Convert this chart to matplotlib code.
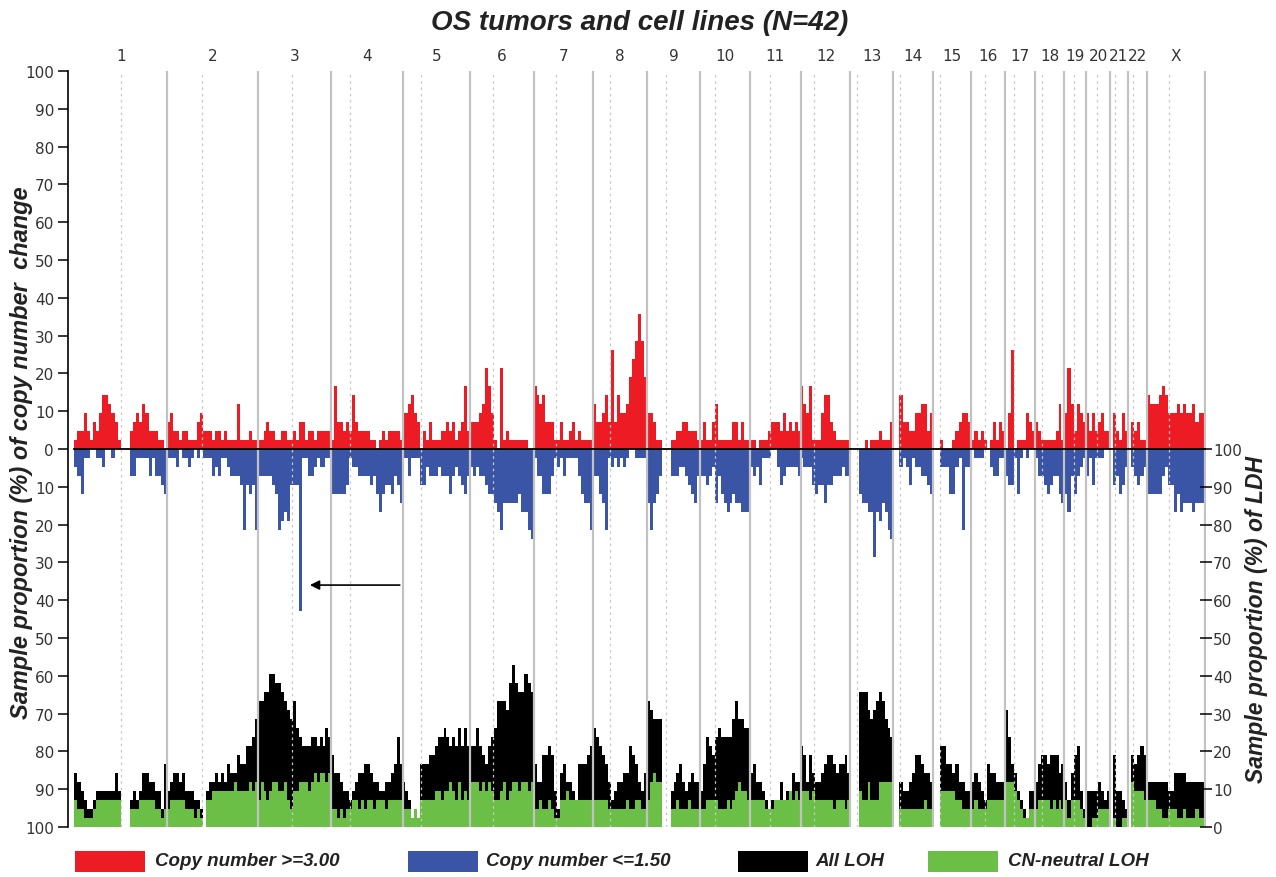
import numpy as np
import matplotlib
matplotlib.use("Agg")
import matplotlib.pyplot as plt
from matplotlib.patches import Rectangle
from matplotlib.transforms import blended_transform_factory

# ---- data: sample counts (out of N=42) per genomic bin, read per chromosome ----
N_SAMPLES = 42
CHROMS = [str(i) for i in range(1, 23)] + ["X"]
CHROM_LEN = [249.25, 243.2, 198.0, 191.2, 180.9, 171.1, 159.1, 146.4, 141.2, 135.5, 135.0, 133.9,
             115.2, 107.3, 102.5, 90.4, 81.2, 78.1, 59.1, 63.0, 48.1, 51.3, 155.3]  # Mb
CENTROMERE = [125.0, 93.3, 91.0, 50.4, 48.4, 61.0, 59.9, 45.6, 49.0, 40.2, 53.7, 35.8,
              17.9, 17.6, 19.0, 36.6, 24.0, 17.2, 26.5, 27.5, 13.2, 14.7, 60.6]  # Mb

GAIN = [
    [1, 2, 2, 4, 2, 1, 3, 2, 4, 6, 6, 5, 4, 3, 1, 0, 0, 0, 2, 3, 4, 3, 5, 4, 2, 2, 2, 1, 1, 0],
    [3, 4, 2, 2, 1, 2, 2, 1, 1, 1, 3, 4, 2, 2, 2, 1, 2, 2, 1, 2, 1, 1, 1, 5, 1, 1, 1, 2, 1, 1],
    [1, 1, 2, 3, 2, 2, 1, 1, 2, 2, 1, 1, 2, 1, 3, 3, 1, 2, 2, 1, 2, 2, 2, 2, 2],
    [1, 7, 3, 3, 2, 3, 2, 6, 3, 2, 2, 2, 2, 1, 1, 0, 1, 2, 1, 2, 2, 2, 2, 1],
    [4, 4, 5, 6, 4, 3, 0, 2, 1, 3, 1, 1, 1, 2, 2, 3, 2, 3, 1, 2, 3, 7, 2],
    [3, 3, 3, 4, 5, 9, 7, 4, 1, 0, 9, 1, 2, 1, 1, 1, 1, 1, 1, 0, 0],
    [7, 6, 5, 6, 3, 3, 3, 1, 1, 3, 1, 1, 2, 3, 1, 2, 1, 1, 1, 1],
    [5, 3, 3, 4, 6, 3, 11, 3, 6, 4, 4, 5, 8, 10, 12, 15, 12, 8],
    [4, 4, 3, 1, 1, 0, 0, 0, 1, 1, 2, 2, 3, 3, 2, 2, 2, 1],
    [1, 3, 1, 1, 3, 5, 1, 1, 1, 1, 1, 3, 3, 1, 3, 1, 1],
    [1, 1, 0, 1, 1, 1, 2, 3, 3, 3, 2, 4, 2, 3, 2, 3, 2],
    [7, 5, 4, 7, 1, 1, 1, 4, 6, 6, 3, 2, 1, 1, 1, 1, 1],
    [0, 0, 0, 0, 0, 1, 0, 1, 1, 1, 2, 1, 1, 1, 3],
    [0, 0, 6, 3, 3, 2, 2, 4, 4, 5, 5, 2, 4],
    [0, 0, 1, 0, 0, 0, 1, 2, 3, 4, 4, 3],
    [1, 2, 1, 2, 1, 0, 1, 3, 1, 3, 2],
    [0, 4, 11, 0, 1, 1, 1, 4, 3, 2],
    [3, 2, 1, 1, 1, 1, 1, 2, 5, 1],
    [4, 9, 5, 2, 5, 4, 3],
    [4, 2, 4, 2, 3, 4, 2, 2],
    [0, 4, 2, 1, 4, 2],
    [0, 3, 2, 3, 1, 1],
    [6, 5, 5, 5, 6, 7, 6, 4, 4, 4, 5, 4, 5, 4, 4, 5, 3, 4, 4],
]

LOSS = [
    [2, 3, 5, 1, 1, 0, 0, 1, 1, 2, 0, 0, 1, 0, 0, 0, 0, 0, 3, 3, 1, 1, 1, 1, 3, 1, 3, 3, 4, 5],
    [1, 1, 1, 2, 0, 1, 1, 2, 1, 0, 1, 0, 1, 1, 1, 3, 2, 3, 1, 1, 2, 3, 3, 3, 4, 9, 4, 5, 4, 9],
    [3, 3, 3, 3, 3, 4, 5, 9, 8, 7, 8, 4, 4, 4, 18, 1, 1, 3, 3, 2, 1, 2, 2, 1, 1],
    [5, 5, 5, 5, 5, 4, 1, 2, 2, 3, 3, 3, 3, 4, 3, 5, 7, 5, 4, 4, 5, 3, 4, 6],
    [1, 1, 3, 1, 1, 1, 4, 4, 2, 3, 3, 3, 2, 3, 3, 3, 5, 3, 2, 3, 4, 5, 3],
    [2, 3, 2, 3, 3, 4, 5, 5, 6, 7, 9, 6, 6, 6, 6, 6, 5, 7, 7, 9, 10],
    [1, 3, 3, 5, 5, 5, 3, 1, 2, 1, 3, 1, 1, 1, 1, 3, 5, 6, 6, 9],
    [3, 3, 5, 6, 9, 1, 2, 1, 2, 1, 2, 1, 0, 0, 1, 1, 1, 1],
    [6, 9, 6, 5, 3, 0, 0, 0, 3, 3, 3, 2, 2, 3, 4, 5, 6, 3],
    [3, 3, 4, 3, 2, 6, 3, 5, 6, 7, 6, 5, 6, 6, 7, 7, 7],
    [2, 3, 2, 4, 1, 1, 1, 0, 0, 2, 4, 3, 2, 2, 2, 2, 3],
    [1, 2, 2, 2, 4, 5, 4, 4, 6, 4, 4, 3, 3, 3, 2, 3, 3],
    [0, 0, 0, 5, 6, 6, 7, 7, 12, 7, 8, 6, 7, 9, 10],
    [0, 0, 2, 1, 2, 4, 1, 2, 2, 3, 3, 4, 5],
    [0, 0, 2, 2, 2, 5, 5, 2, 1, 9, 2, 2],
    [0, 1, 1, 1, 0, 0, 2, 3, 3, 1, 1],
    [3, 4, 4, 1, 5, 1, 0, 1, 0, 0],
    [1, 3, 3, 4, 5, 4, 3, 3, 5, 6],
    [5, 7, 3, 5, 3, 2, 1],
    [3, 1, 4, 1, 1, 1, 0, 0],
    [0, 4, 3, 5, 4, 2],
    [0, 2, 3, 4, 3, 2],
    [5, 5, 5, 5, 5, 3, 2, 4, 4, 7, 5, 7, 6, 6, 6, 7, 6, 6, 6],
]

ALL_LOH = [
    [6, 5, 4, 3, 2, 2, 3, 4, 4, 4, 4, 4, 4, 6, 4, 0, 0, 0, 3, 4, 3, 4, 6, 6, 5, 5, 4, 4, 2, 7],
    [4, 5, 6, 6, 5, 6, 4, 4, 4, 3, 3, 2, 0, 4, 5, 5, 6, 5, 6, 5, 7, 6, 6, 8, 7, 7, 9, 9, 10, 12],
    [14, 14, 15, 15, 17, 17, 16, 16, 15, 14, 13, 12, 14, 11, 10, 9, 9, 9, 10, 10, 9, 10, 9, 11, 10],
    [8, 6, 6, 5, 4, 4, 3, 4, 5, 6, 6, 7, 7, 6, 5, 5, 4, 4, 5, 5, 6, 7, 10, 7],
    [5, 4, 3, 1, 2, 1, 7, 7, 7, 8, 8, 9, 10, 10, 11, 10, 9, 10, 9, 11, 9, 11, 9],
    [9, 9, 11, 9, 8, 7, 9, 10, 11, 14, 14, 14, 13, 16, 18, 16, 15, 15, 17, 16, 15],
    [7, 5, 5, 8, 8, 9, 8, 4, 2, 6, 7, 5, 5, 4, 3, 7, 7, 7, 8, 9],
    [11, 10, 9, 8, 7, 5, 3, 4, 5, 5, 6, 6, 9, 8, 7, 5, 4, 6],
    [14, 13, 12, 12, 12, 0, 0, 0, 4, 5, 6, 7, 5, 4, 5, 6, 5, 5],
    [4, 7, 10, 9, 8, 10, 11, 10, 10, 10, 10, 12, 14, 12, 12, 11, 11],
    [6, 7, 5, 5, 4, 3, 2, 3, 3, 3, 5, 3, 4, 4, 6, 5, 5],
    [9, 8, 5, 8, 6, 5, 5, 6, 7, 8, 8, 7, 6, 7, 7, 8, 6],
    [0, 0, 0, 15, 15, 15, 13, 12, 13, 14, 15, 14, 12, 11, 10],
    [0, 0, 5, 4, 4, 5, 6, 8, 8, 7, 6, 6, 5],
    [0, 0, 9, 9, 7, 7, 6, 7, 5, 5, 4, 4],
    [5, 6, 5, 4, 3, 7, 6, 6, 5, 5, 5],
    [13, 10, 7, 6, 4, 3, 2, 1, 4, 4],
    [5, 7, 8, 8, 7, 8, 8, 8, 6, 7],
    [5, 3, 6, 8, 9, 4, 2],
    [4, 4, 4, 4, 5, 4, 3, 4],
    [0, 8, 4, 4, 3, 2],
    [0, 8, 7, 8, 9, 8],
    [5, 5, 5, 5, 5, 5, 5, 4, 4, 6, 6, 6, 6, 5, 5, 5, 5, 5, 5],
]

CNN_LOH = [
    [3, 2, 2, 1, 1, 1, 2, 3, 3, 3, 3, 3, 3, 3, 3, 0, 0, 0, 2, 2, 2, 3, 3, 3, 3, 3, 2, 2, 1, 2],
    [2, 3, 3, 3, 3, 3, 2, 2, 2, 1, 2, 1, 0, 3, 3, 4, 4, 4, 4, 4, 4, 4, 5, 4, 4, 4, 4, 5, 4, 5],
    [3, 5, 4, 3, 4, 5, 5, 4, 4, 5, 3, 2, 4, 4, 5, 5, 5, 4, 5, 6, 5, 6, 6, 5, 6],
    [2, 2, 1, 2, 1, 2, 2, 3, 3, 2, 3, 2, 3, 3, 2, 3, 3, 3, 2, 3, 3, 3, 3, 3],
    [2, 2, 2, 1, 2, 1, 3, 3, 3, 3, 3, 4, 4, 3, 4, 4, 5, 4, 3, 5, 3, 4, 3],
    [5, 5, 5, 4, 5, 4, 5, 4, 3, 3, 4, 5, 3, 4, 5, 5, 4, 5, 5, 4, 5],
    [2, 2, 3, 2, 2, 3, 2, 1, 1, 3, 3, 4, 3, 3, 3, 3, 3, 3, 3, 3],
    [3, 3, 3, 3, 3, 2, 2, 2, 2, 2, 2, 3, 2, 2, 3, 3, 2, 2],
    [3, 5, 6, 5, 5, 0, 0, 0, 2, 2, 3, 2, 2, 2, 3, 2, 2, 2],
    [2, 2, 3, 3, 3, 3, 2, 2, 2, 3, 2, 3, 4, 5, 4, 4, 3],
    [3, 3, 3, 3, 3, 2, 2, 2, 3, 3, 3, 3, 3, 4, 3, 4, 3],
    [4, 4, 4, 3, 4, 3, 3, 3, 3, 3, 3, 2, 3, 3, 3, 2, 3],
    [0, 0, 0, 4, 3, 3, 5, 3, 3, 3, 5, 5, 5, 5, 5],
    [0, 0, 2, 2, 2, 2, 2, 2, 2, 2, 3, 2, 2],
    [0, 0, 4, 4, 4, 4, 4, 3, 3, 2, 2, 2],
    [2, 3, 2, 2, 2, 3, 3, 3, 3, 3, 3],
    [5, 5, 5, 4, 3, 2, 1, 1, 2, 2],
    [2, 3, 3, 3, 3, 2, 3, 2, 3, 2],
    [3, 1, 3, 3, 3, 2, 1],
    [0, 0, 1, 1, 2, 2, 2, 2],
    [0, 1, 0, 0, 1, 1],
    [0, 5, 4, 4, 4, 3],
    [3, 3, 3, 2, 2, 1, 1, 2, 2, 2, 1, 1, 2, 1, 1, 1, 2, 1, 1],
]

RED = "#ed1c24"
BLUE = "#3a55a5"
GREEN = "#6cbf46"
TXT = "#222222"
NARROW = ["Liberation Sans Narrow", "DejaVu Sans Condensed", "DejaVu Sans"]
SANS = ["Liberation Sans", "DejaVu Sans"]


def pct(counts):
    return np.asarray(counts, dtype=float) / N_SAMPLES * 100.0


def bin_edges(i, counts):
    w = CHROM_LEN[i] / len(counts)
    return offsets[i] + np.arange(len(counts)) * w, w


offsets = np.concatenate([[0.0], np.cumsum(CHROM_LEN)[:-1]])
ends = np.cumsum(CHROM_LEN)
total = ends[-1]

W, H = 1276, 878
fig = plt.figure(figsize=(W / 100, H / 100), dpi=100)
ax = fig.add_axes([68 / W, 50 / H, 1138 / W, 756 / H])

for i in range(len(CHROMS)):
    x, w = bin_edges(i, GAIN[i])
    ax.bar(x, pct(GAIN[i]), width=w, align="edge", color=RED, lw=0, zorder=2)
    x, w = bin_edges(i, LOSS[i])
    ax.bar(x, -pct(LOSS[i]), width=w, align="edge", color=BLUE, lw=0, zorder=2)
    x, w = bin_edges(i, ALL_LOH[i])
    ax.bar(x, pct(ALL_LOH[i]), bottom=-100, width=w, align="edge", color="black", lw=0, zorder=2)
    x, w = bin_edges(i, CNN_LOH[i])
    ax.bar(x, pct(CNN_LOH[i]), bottom=-100, width=w, align="edge", color=GREEN, lw=0, zorder=2.5)

# chromosome boundaries (solid) and centromeres (dotted)
for e in ends:
    ax.axvline(e, color="#c2c2c2", lw=1.6, zorder=3)
for o, c in zip(offsets, CENTROMERE):
    ax.axvline(o + c, color="#c8c8c8", lw=0.9, ls=(0, (2, 3)), zorder=3)

ax.plot([0, total], [0, 0], color="black", lw=1.3, zorder=4)

ax.set_xlim(-17, 3040)
ax.set_ylim(-100, 100)
ax.set_xticks([])
for s in ("top", "right", "bottom"):
    ax.spines[s].set_visible(False)
ax.spines["left"].set_linewidth(1.2)

left_ticks = np.arange(-100, 101, 10)
ax.set_yticks(left_ticks)
ax.set_yticklabels([str(abs(v)) for v in left_ticks], family=NARROW, fontsize=11, color="#333333")
ax.tick_params(axis="y", direction="out", length=7, width=1.1, pad=3)

ax2 = ax.twinx()
ax2.set_ylim(-100, 100)
right_ticks = np.arange(-100, 1, 10)
ax2.set_yticks(right_ticks)
ax2.set_yticklabels([str(v + 100) for v in right_ticks], family=NARROW, fontsize=11, color="#333333")
ax2.tick_params(axis="y", direction="inout", length=8, width=1.1, pad=1)
for s in ax2.spines.values():
    s.set_visible(False)

# chromosome names along the top
trans = blended_transform_factory(ax.transData, ax.transAxes)
for name, o, L in zip(CHROMS, offsets, CHROM_LEN):
    ax.text(o + L / 2, 1.02, name, transform=trans, ha="center", va="center",
            family=NARROW, fontsize=11, color="#333333")

# arrow pointing at the deep chr3 loss
spike = int(np.argmax(LOSS[2]))
spike_x = offsets[2] + (spike + 0.5) * CHROM_LEN[2] / len(LOSS[2])
ax.annotate("", xy=(spike_x + 18, -36), xytext=(offsets[4], -36),
            arrowprops=dict(arrowstyle="-|>", color="black", lw=1.2, mutation_scale=14), zorder=5)

fig.text(640 / W, 1 - 23 / H, "OS tumors and cell lines (N=42)", ha="center", va="center",
         family=SANS, fontsize=20, fontweight="bold", fontstyle="italic", color=TXT)
fig.text(22 / W, 1 - 453 / H, "Sample proportion (%) of copy number  change", rotation=90,
         ha="center", va="center", family=SANS, fontsize=17, fontweight="bold",
         fontstyle="italic", color=TXT)
fig.text(1256 / W, 1 - 620 / H, "Sample proportion (%) of LDH", rotation=90,
         ha="center", va="center", family=SANS, fontsize=16.5, fontweight="bold",
         fontstyle="italic", color=TXT)

# legend
legend_items = [("Copy number >=3.00", RED, 75, 155), ("Copy number <=1.50", BLUE, 408, 486),
                ("All LOH", "black", 738, 815), ("CN-neutral LOH", GREEN, 928, 1008)]
for label, col, px, tx in legend_items:
    fig.add_artist(Rectangle((px / W, (H - 873) / H), 70 / W, 21 / H, transform=fig.transFigure,
                             facecolor=col, edgecolor="none"))
    fig.text(tx / W, 1 - 862 / H, label, ha="left", va="center", family=SANS, fontsize=13.5,
             fontweight="bold", fontstyle="italic", color=TXT)

fig.savefig("out.png", dpi=100)
